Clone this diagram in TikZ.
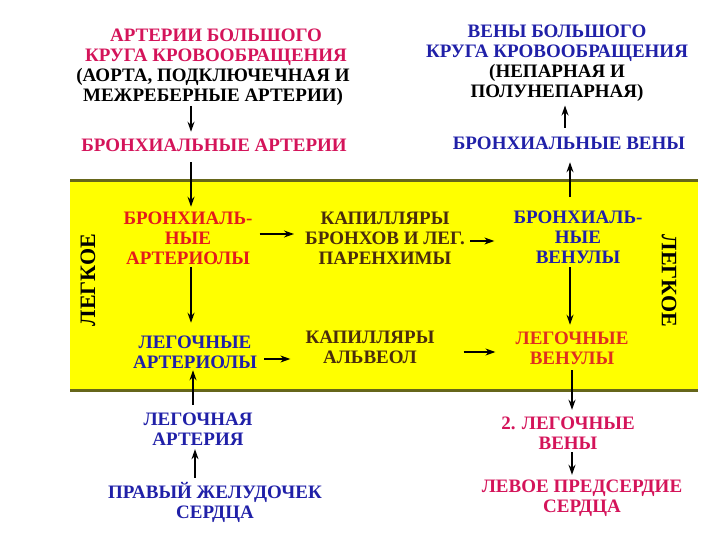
\documentclass[tikz,border=0pt]{standalone}
\usepackage{fontspec}
\setmainfont{Liberation Serif}
\usetikzlibrary{arrows.meta}
\definecolor{crimson}{HTML}{D4145A}
\definecolor{redart}{HTML}{E41B1B}
\definecolor{redven}{HTML}{E0301E}
\definecolor{bluetxt}{HTML}{2020A8}
\definecolor{browntxt}{HTML}{4A2C0C}
\definecolor{lungfill}{HTML}{FFFF00}
\definecolor{lungline}{HTML}{66661A}

\begin{document}
\begin{tikzpicture}[x=1pt,y=-1pt]
    \tikzset{
    lbl/.style={font=\bfseries\fontsize{19}{20}\selectfont,align=center,inner sep=0pt},
    side/.style={font=\bfseries\fontsize{22}{24}\selectfont,inner sep=0pt},
    arr/.style={-{Stealth[length=10pt,width=7pt]},line width=1.2pt},
    }
    \useasboundingbox (0,0) rectangle (720,540);

    % lung band
    \coordinate (lungnw) at (70,181);
    \coordinate (lungse) at (698,390);
    \fill[lungfill] (lungnw) rectangle (lungse);
    \draw[lungline,line width=3pt] (lungnw) -- (lungnw -| lungse);
    \draw[lungline,line width=3pt] (lungse) -- (lungnw |- lungse);
    \node[side,rotate=90] (lungl) at (88,280) {ЛЕГКОЕ};
    \node[side,rotate=-90] (lungr) at (669,281) {ЛЕГКОЕ};

    % arteries
    \node[lbl,crimson] (artbig) at (216,47) {АРТЕРИИ БОЛЬШОГО\\КРУГА КРОВООБРАЩЕНИЯ};
    \node[lbl] (artnote) at (213,87) {(АОРТА, ПОДКЛЮЧЕЧНАЯ И\\МЕЖРЕБЕРНЫЕ АРТЕРИИ)};
    \node[lbl,crimson] (bronart) at (214,145) {БРОНХИАЛЬНЫЕ АРТЕРИИ};
    \node[lbl,redart] (bronartl) at (188,238) {БРОНХИАЛЬ-\\НЫЕ\\АРТЕРИОЛЫ};
    \node[lbl,bluetxt] (legart) at (195,352) {ЛЕГОЧНЫЕ\\АРТЕРИОЛЫ};
    \node[lbl,bluetxt] (legartery) at (198,429) {ЛЕГОЧНАЯ\\АРТЕРИЯ};
    \node[lbl,bluetxt] (rventr) at (215,502) {ПРАВЫЙ ЖЕЛУДОЧЕК\\СЕРДЦА};

    % capillaries
    \node[lbl,browntxt] (capbron) at (385,238) {КАПИЛЛЯРЫ\\БРОНХОВ И ЛЕГ.\\ПАРЕНХИМЫ};
    \node[lbl,browntxt] (capalv) at (370,347) {КАПИЛЛЯРЫ\\АЛЬВЕОЛ};

    % veins
    \node[lbl,bluetxt] (venbig) at (557,43) {ВЕНЫ БОЛЬШОГО\\КРУГА КРОВООБРАЩЕНИЯ};
    \node[lbl] (vennote) at (557,83) {(НЕПАРНАЯ И\\ПОЛУНЕПАРНАЯ)};
    \node[lbl,bluetxt] (bronvtop) at (569,143) {БРОНХИАЛЬНЫЕ ВЕНЫ};
    \node[lbl,bluetxt] (bronven) at (578,237) {БРОНХИАЛЬ-\\НЫЕ\\ВЕНУЛЫ};
    \node[lbl,redven] (legven) at (572,348) {ЛЕГОЧНЫЕ\\ВЕНУЛЫ};
    \node[lbl,crimson] (legveins) at (568,433) {2. ЛЕГОЧНЫЕ\\ВЕНЫ};
    \node[lbl,crimson] (latrium) at (582,498) {ЛЕВОЕ ПРЕДСЕРДИЕ\\СЕРДЦА};

    % arterial side
    \draw[arr,shorten >=6.7pt] ([xshift=-22pt]artnote.south) -- ([xshift=-22pt]artnote.south |- bronart.north);
    \draw[arr,shorten <=10.7pt,shorten >=4.7pt] ([xshift=-23pt]bronart.south) -- ([xshift=-23pt]bronart.south |- bronartl.north);
    \draw[arr,shorten <=2.7pt,shorten >=12.7pt] ([xshift=3pt]bronartl.south) -- ([xshift=3pt]bronartl.south |- legart.north);
    \draw[arr,shorten <=7.7pt,shorten >=1.7pt] ([xshift=-5pt]legartery.north) -- ([xshift=-5pt]legartery.north |- legart.south);
    \draw[arr,shorten <=3.7pt,shorten >=3.7pt] ([xshift=-20pt]rventr.north) -- ([xshift=-20pt]rventr.north |- legartery.south);

    % capillary links
    \draw[arr,shorten <=7pt,shorten >=11pt] ([yshift=4pt]bronartl.east) -- ([yshift=4pt]bronartl.east -| capbron.west);
    \draw[arr,shorten <=7pt,shorten >=15pt] ([yshift=-7pt]legart.east) -- ([yshift=-7pt]legart.east -| capalv.west);
    \draw[arr,shorten <=5pt,shorten >=19pt] ([yshift=-3pt]capbron.east) -- ([yshift=-3pt]capbron.east -| bronven.west);
    \draw[arr,shorten <=29pt,shorten >=20pt] ([yshift=-5pt]capalv.east) -- ([yshift=-5pt]capalv.east -| legven.west);

    % venous side
    \draw[arr,shorten <=3.7pt,shorten >=6.7pt] ([xshift=-8pt]bronven.south) -- ([xshift=-8pt]bronven.south |- legven.north);
    \draw[arr,shorten <=5.7pt,shorten >=6.7pt] (legven.south) -- (legven.south |- legveins.north);
    \draw[arr,shorten <=2.7pt,shorten >=4.7pt] ([xshift=4pt]legveins.south) -- ([xshift=4pt]legveins.south |- latrium.north);
    \draw[arr,shorten <=13.7pt,shorten >=12.7pt] ([xshift=-8pt]bronven.north) -- ([xshift=-8pt]bronven.north |- bronvtop.south);
    \draw[arr,shorten <=8.7pt,shorten >=3.7pt] ([xshift=-4pt]bronvtop.north) -- ([xshift=-4pt]bronvtop.north |- vennote.south);
\end{tikzpicture}
\end{document}
